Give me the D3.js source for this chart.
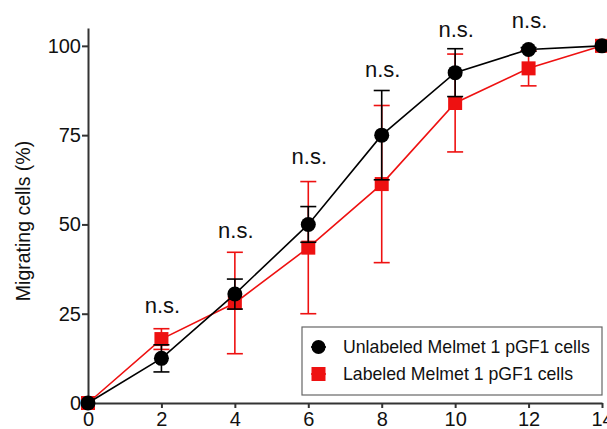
<!DOCTYPE html>
<html><head><meta charset="utf-8">
<script src="https://cdn.jsdelivr.net/npm/d3@7"></script>
<style>body{margin:0;background:#fff}svg{display:block}text{font-family:"Liberation Sans",Arial,sans-serif}</style>
</head><body>
<svg id="c" width="607" height="429"></svg>
<script>
const hours = [0, 2, 4, 6, 8, 10, 12, 14];
const unlabeledMean = [0, 12.5, 30.5, 50, 75, 92.5, 99, 100];
const unlabeledErr  = [0, 3.8, 4.2, 5, 12.5, 6.7, 0.5, 0];
const labeledMean   = [0, 17.9, 28, 43.5, 61.3, 84, 93.7, 100];
const labeledErr    = [0, 2.9, 14.2, 18.5, 22, 13.7, 4.9, 0];
const sigLabels     = ["", "n.s.", "n.s.", "n.s.", "n.s.", "n.s.", "n.s.", ""];
const sigLevel      = [null, 25.1, 46.2, 66.9, 91.3, 102.5, 104.9, null];
const yTicks = [0, 25, 50, 75, 100];
const xTicks = [0, 2, 4, 6, 8, 10, 12, 14];
const seriesNames = ["Unlabeled Melmet 1 pGF1 cells", "Labeled Melmet 1 pGF1 cells"];

const svg = d3.select("#c");
const x = d3.scaleLinear().domain([0, 14]).range([88, 602]);
const y = d3.scaleLinear().domain([0, 105]).range([403, 28]);
const axisColor = "#333";
const red = "#ee1111";

// axes
const xAxis = svg.append("g").attr("transform", "translate(0,403)")
  .call(d3.axisBottom(x).tickValues(xTicks).tickSize(5).tickPadding(4).tickSizeOuter(0));
const yAxis = svg.append("g").attr("transform", "translate(88,0)")
  .call(d3.axisLeft(y).tickValues(yTicks).tickSize(6).tickPadding(1).tickSizeOuter(0));
[xAxis, yAxis].forEach(g => {
  g.select(".domain").attr("stroke", axisColor).attr("stroke-width", 2);
  g.selectAll(".tick line").attr("stroke", axisColor).attr("stroke-width", 2);
  g.selectAll(".tick text").attr("fill", "#111").style("font-size", "20px")
    .style("font-family", "'Liberation Sans', Arial, sans-serif");
});

svg.append("text").attr("transform", "translate(30,221) rotate(-90)")
  .attr("text-anchor", "middle").style("font-size", "19.5px").attr("fill", "#111")
  .text("Migrating cells (%)");

function drawSeries(mean, err, color, shape) {
  const pts = hours.map((h, i) => ({h, m: mean[i], e: err[i]}));
  const g = svg.append("g");
  g.append("path").datum(pts)
    .attr("d", d3.line().x(d => x(d.h)).y(d => y(d.m)))
    .attr("fill", "none").attr("stroke", color).attr("stroke-width", 1.6);
  const eb = g.selectAll(".eb").data(pts.filter(d => d.e > 0)).enter().append("g");
  eb.append("line").attr("x1", d => x(d.h)).attr("x2", d => x(d.h))
    .attr("y1", d => y(d.m - d.e)).attr("y2", d => y(d.m + d.e))
    .attr("stroke", color).attr("stroke-width", 1.6);
  [1, -1].forEach(s => {
    eb.append("line").attr("x1", d => x(d.h) - 8).attr("x2", d => x(d.h) + 8)
      .attr("y1", d => y(d.m + s * d.e)).attr("y2", d => y(d.m + s * d.e))
      .attr("stroke", color).attr("stroke-width", 1.6);
  });
  if (shape === "circle") {
    g.selectAll(".mk").data(pts).enter().append("circle")
      .attr("cx", d => x(d.h)).attr("cy", d => y(d.m)).attr("r", 7.5).attr("fill", color);
  } else {
    g.selectAll(".mk").data(pts).enter().append("rect")
      .attr("x", d => x(d.h) - 7).attr("y", d => y(d.m) - 7)
      .attr("width", 14).attr("height", 14).attr("fill", color);
  }
}
drawSeries(labeledMean, labeledErr, red, "square");
drawSeries(unlabeledMean, unlabeledErr, "#000", "circle");

// significance labels
svg.selectAll(".ns").data(hours.map((h, i) => ({h, t: sigLabels[i], lv: sigLevel[i]}))
  .filter(d => d.t)).enter().append("text")
  .attr("x", d => x(d.h) + 1).attr("y", d => y(d.lv))
  .attr("text-anchor", "middle").style("font-size", "22px").attr("fill", "#111")
  .text(d => d.t);

// legend
const lg = svg.append("g").attr("transform", "translate(302,327)");
lg.append("rect").attr("width", 300).attr("height", 68)
  .attr("fill", "#fff").attr("stroke", "#666").attr("stroke-width", 1.2);
seriesNames.forEach((name, i) => {
  const cy = 20 + i * 27;
  const color = i === 0 ? "#000" : red;
  lg.append("line").attr("x1", 9).attr("x2", 24).attr("y1", cy).attr("y2", cy)
    .attr("stroke", color).attr("stroke-width", 1.6);
  if (i === 0) lg.append("circle").attr("cx", 16.5).attr("cy", cy).attr("r", 7).attr("fill", color);
  else lg.append("rect").attr("x", 9.5).attr("y", cy - 7).attr("width", 14).attr("height", 14).attr("fill", color);
  lg.append("text").attr("x", 41).attr("y", cy + 6).style("font-size", "17.7px")
    .attr("fill", "#111").text(name);
});
</script>
</body></html>
